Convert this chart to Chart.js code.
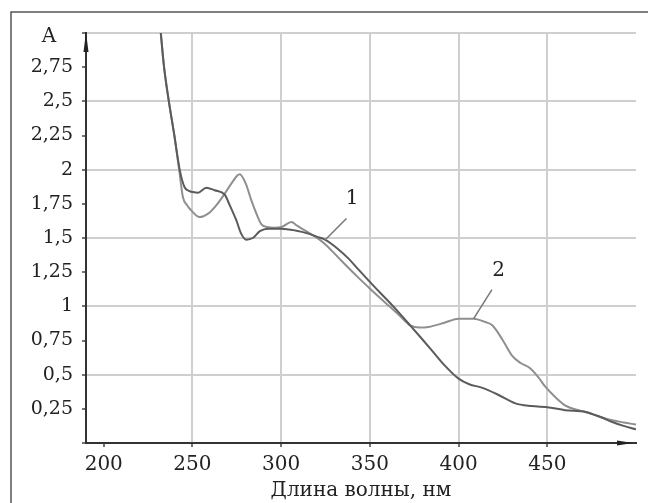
<!DOCTYPE html>
<html>
<head>
<meta charset="utf-8">
<script src="https://cdn.jsdelivr.net/npm/chart.js@4/dist/chart.umd.min.js"></script>
<style>
html,body{margin:0;padding:0;background:#fff;}
canvas{display:block;}
</style>
</head>
<body>
<canvas id="c" width="648" height="503"></canvas>
<script>
// ---- data ----
const curve1X = [231.8,234,236.7,239.8,242.8,245.5,248,250.3,253.1,257.8,262.5,268.2,271,274.7,277.5,280.4,284,288,292.7,300,308,315.3,320,324.7,332,338,343.5,349.2,355,361,367,372.7,378.8,384.9,392,400,406,413,422,432,441,451,460,471.6,480,486.6,493,500];
const curve1Y = [3.05,2.75,2.5,2.25,2.0,1.873,1.845,1.836,1.832,1.868,1.849,1.817,1.74,1.63,1.53,1.488,1.5,1.55,1.568,1.568,1.555,1.532,1.51,1.488,1.42,1.349,1.27,1.19,1.11,1.03,0.945,0.861,0.77,0.678,0.57,0.471,0.43,0.405,0.355,0.29,0.27,0.26,0.24,0.227,0.19,0.154,0.125,0.1];
const curve2X = [231.8,234,236.7,239.8,242.5,244.6,247,249.3,254,258.8,263.4,268.2,272,276.6,280,283.2,286,288.9,292,296,300.2,305.8,309,313.3,320.9,326,332,338,343.5,349.2,355,361,367,372.7,378,383,392,400,408.5,415,419,425,430,435,440,445,449,455,460,466,471.6,480,486.6,493,500];
const curve2Y = [3.05,2.75,2.5,2.25,2.0,1.8,1.74,1.702,1.653,1.678,1.739,1.825,1.9,1.966,1.9,1.775,1.68,1.6,1.58,1.575,1.58,1.617,1.59,1.556,1.495,1.44,1.36,1.28,1.21,1.14,1.07,1.0,0.93,0.861,0.845,0.849,0.88,0.91,0.91,0.885,0.861,0.75,0.641,0.585,0.55,0.48,0.41,0.33,0.276,0.245,0.227,0.19,0.166,0.15,0.135];
const xTicks = [200,250,300,350,400,450];
const yTicks = [0,0.25,0.5,0.75,1,1.25,1.5,1.75,2,2.25,2.5,2.75,3];
const xTitle = 'Длина волны, нм';
const yTitle = 'A';
const curveLabels = ['1','2'];
// label anchor (data space): text position, leader start, leader end
const labelText = [[340,1.788],[422.5,1.263]];
const leaderFrom = [[336.8,1.642],[418.8,1.122]];
const leaderTo = [[324.6,1.483],[408.5,0.91]];

const serif = '"DejaVu Serif", serif';

const decor = {
  id:'decor',
  afterDraw(chart){
    const ctx = chart.ctx, xs = chart.scales.x, ys = chart.scales.y, a = chart.chartArea;
    ctx.save();
    // frame
    ctx.strokeStyle = '#555'; ctx.lineWidth = 1.5;
    ctx.beginPath(); ctx.moveTo(11,503); ctx.lineTo(11,12); ctx.lineTo(648,12); ctx.stroke();
    // arrows
    ctx.fillStyle = '#222';
    ctx.beginPath(); ctx.moveTo(a.left, a.top-1); ctx.lineTo(a.left-2.5, a.top+19); ctx.lineTo(a.left+2.5, a.top+19); ctx.closePath(); ctx.fill();
    ctx.beginPath(); ctx.moveTo(a.right-3, a.bottom); ctx.lineTo(a.right-19, a.bottom-2.5); ctx.lineTo(a.right-19, a.bottom+2.5); ctx.closePath(); ctx.fill();
    // y title
    ctx.fillStyle = '#222'; ctx.font = '20px ' + serif; ctx.textAlign='center'; ctx.textBaseline='middle';
    ctx.fillText(yTitle, 49, 37);
    // leaders & labels
    ctx.strokeStyle = '#777'; ctx.lineWidth = 1.5;
    for (let i=0;i<curveLabels.length;i++){
      ctx.beginPath();
      ctx.moveTo(xs.getPixelForValue(leaderFrom[i][0]), ys.getPixelForValue(leaderFrom[i][1]));
      ctx.lineTo(xs.getPixelForValue(leaderTo[i][0]), ys.getPixelForValue(leaderTo[i][1]));
      ctx.stroke();
      ctx.font = '20px ' + serif;
      ctx.fillText(curveLabels[i], xs.getPixelForValue(labelText[i][0]), ys.getPixelForValue(labelText[i][1]));
    }
    ctx.restore();
  }
};

const toPts = (X,Y)=>X.map((x,i)=>({x:x,y:Y[i]}));

new Chart(document.getElementById('c'), {
  type:'line',
  data:{datasets:[
    {label:'1', data:toPts(curve1X,curve1Y), borderColor:'#5b5b5b', borderWidth:2, pointRadius:0, tension:0.35, cubicInterpolationMode:'monotone'},
    {label:'2', data:toPts(curve2X,curve2Y), borderColor:'#8f8f8f', borderWidth:2, pointRadius:0, tension:0.35, cubicInterpolationMode:'monotone'}
  ]},
  options:{
    responsive:false, animation:false, devicePixelRatio:1,
    layout:{padding:{top:33,right:12,left:0,bottom:0}},
    plugins:{legend:{display:false}, tooltip:{enabled:false}},
    scales:{
      x:{type:'linear', min:190, max:500,
        afterBuildTicks(s){ s.ticks = xTicks.map(v=>({value:v})); },
        afterFit(s){ s.height = 60; },
        ticks:{font:{family:serif,size:20}, color:'#222', padding:6, maxRotation:0, autoSkip:false},
        grid:{color:c=>c.tick && c.tick.value>=250 ? '#cfcfcf':'rgba(0,0,0,0)', lineWidth:2, tickColor:'#444', tickLength:4, tickWidth:1.5},
        border:{color:'#333', width:2},
        title:{display:true, text:xTitle, font:{family:serif,size:20}, color:'#222', padding:{top:4,bottom:0}}
      },
      y:{type:'linear', min:0, max:3,
        afterBuildTicks(s){ s.ticks = yTicks.map(v=>({value:v})); },
        afterFit(s){ s.width = 86; },
        ticks:{font:{family:serif,size:19}, color:'#222', padding:9, autoSkip:false,
          callback:v=> (v<=0||v>=3) ? '' : String(v).replace('.',',')},
        grid:{color:c=>c.tick && c.tick.value>0 && Math.abs(c.tick.value*2-Math.round(c.tick.value*2))<1e-6 ? '#cfcfcf':'rgba(0,0,0,0)', lineWidth:2, tickColor:'#444', tickLength:4, tickWidth:1.5},
        border:{color:'#333', width:2}
      }
    }
  },
  plugins:[decor]
});
</script>
</body>
</html>
